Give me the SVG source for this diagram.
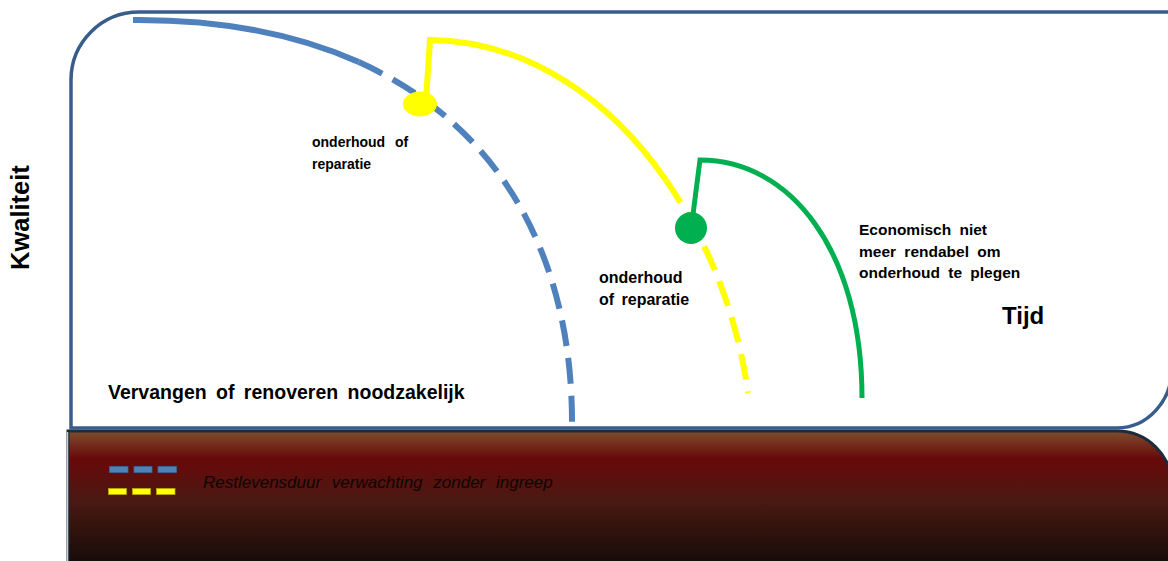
<svg xmlns="http://www.w3.org/2000/svg" width="1168" height="561" viewBox="0 0 1168 561">
<defs>
<linearGradient id="ground" x1="0" y1="0" x2="0" y2="1">
<stop offset="0" stop-color="#7e4e2e"/>
<stop offset="0.2" stop-color="#680909"/>
<stop offset="0.5" stop-color="#4a1912"/>
<stop offset="1" stop-color="#100a07"/>
</linearGradient>
<style>
.lbl{font-family:"Liberation Sans",Arial,sans-serif;font-weight:bold;fill:#000}
.blue{fill:none;stroke:#4F81BD;stroke-width:6}
.yel{fill:none;stroke:#FFFF00;stroke-width:6}
.grn{fill:none;stroke:#00B050;stroke-width:5}
.dash{stroke-dasharray:26 12}
</style>
</defs>
<rect width="1168" height="561" fill="#ffffff"/>
<g id="ground-panel">
<path d="M68,431 L1117,431 A55,55 0 0 1 1172,486 L1172,570 L68,570 Z" fill="url(#ground)" stroke="#1d2b3a" stroke-width="3"/>
<line x1="67.5" y1="432" x2="67.5" y2="561" stroke="#c9ced4" stroke-width="1.5"/>
</g>
<g id="quality-panel">
<path d="M71,428 L71,80 A68,68 0 0 1 139,12 L1190,12 L1190,368 L1172,368 A55,60 0 0 1 1117,428 Z" fill="#ffffff" stroke="#385D8A" stroke-width="3.5"/>
</g>
<g id="connectors">
<path class="blue" d="M133,20 C222.1,19.4 297.3,34.5 358.8,62.1"/>
<path class="blue dash" d="M358.8,62.1 C502.4,126.6 572,259.6 572,422"/>
<path class="yel" stroke-linejoin="miter" d="M426,100 L430,40 C526.9,41 609.2,98.1 666.3,180.6"/>
<path class="yel dash" d="M666.3,180.6 C709.4,242.9 738.1,318.6 748,393"/>
<path class="grn" stroke-linejoin="miter" d="M692,222 L700,160 C790,160 862,250 862,398"/>
</g>
<g id="node-repair1">
<ellipse cx="420" cy="104" rx="17" ry="12.5" fill="#FFFF00"/>
<text class="lbl" font-size="14" word-spacing="6"><tspan x="312" y="146.5">onderhoud of</tspan><tspan x="312" y="168.5">reparatie</tspan></text>
</g>
<g id="node-repair2">
<circle cx="691" cy="228" r="16" fill="#00B050"/>
<text class="lbl" font-size="16" word-spacing="3"><tspan x="599" y="283">onderhoud</tspan><tspan x="599" y="304.5">of reparatie</tspan></text>
</g>
<g id="node-economic">
<text class="lbl" font-size="15.5" word-spacing="4"><tspan x="859" y="235">Economisch niet</tspan><tspan x="859" y="256.5">meer rendabel om</tspan><tspan x="859" y="277.5">onderhoud te plegen</tspan></text>
</g>
<g id="node-replace">
<text class="lbl" font-size="19.5" word-spacing="4" x="108" y="399">Vervangen of renoveren noodzakelijk</text>
</g>
<g id="axis-time">
<text class="lbl" font-size="24" x="1002" y="324">Tijd</text>
</g>
<g id="axis-quality">
<text class="lbl" font-size="25.5" transform="translate(29,270) rotate(-90)">Kwaliteit</text>
</g>
<g id="legend">
<rect x="109.5" y="466.5" width="18.5" height="6" fill="#4F81BD" stroke="#3d6595" stroke-width="0.8"/>
<rect x="134" y="466.5" width="18" height="6" fill="#4F81BD" stroke="#3d6595" stroke-width="0.8"/>
<rect x="158" y="466.5" width="18.5" height="6" fill="#4F81BD" stroke="#3d6595" stroke-width="0.8"/>
<rect x="108.5" y="488.5" width="18" height="6" fill="#FFFF00" stroke="#b5a600" stroke-width="0.8"/>
<rect x="132.5" y="488.5" width="18" height="6" fill="#FFFF00" stroke="#b5a600" stroke-width="0.8"/>
<rect x="156.5" y="488.5" width="18.5" height="6" fill="#FFFF00" stroke="#b5a600" stroke-width="0.8"/>
<text font-family="'Liberation Sans',Arial,sans-serif" font-style="italic" font-size="17" word-spacing="6" fill="#0e0605" x="203" y="488">Restlevensduur verwachting zonder ingreep</text>
</g>
</svg>
